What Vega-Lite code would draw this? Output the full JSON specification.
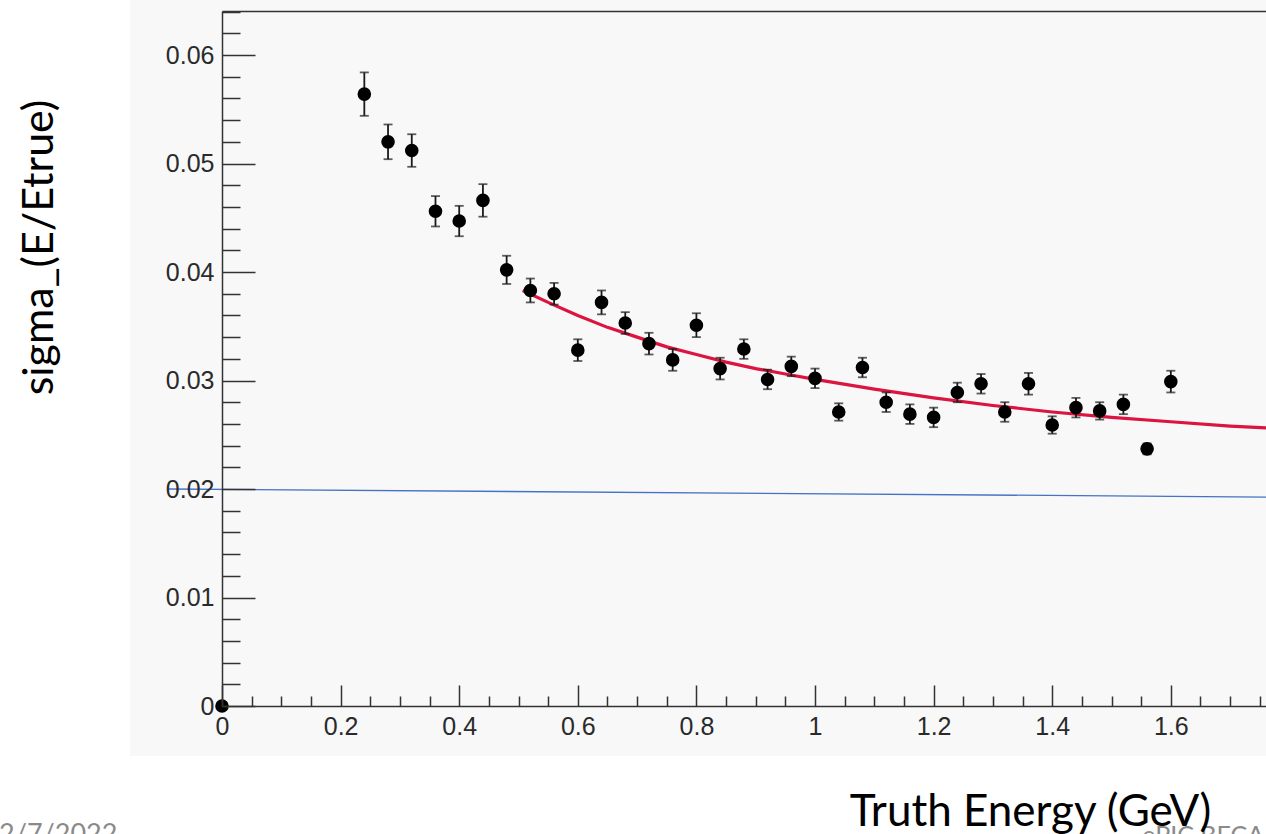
{
  "$schema": "https://vega.github.io/schema/vega-lite/v6.json",
  "width": 1044,
  "height": 695,
  "autosize": "none",
  "padding": {"left": 222, "top": 11, "right": 0, "bottom": 128},
  "background": "white",
  "config": {"view": {"stroke": null}},
  "datasets": {
    "pts": [
      {"E": 0.0, "sigma": 0.0, "err": 0},
      {"E": 0.24, "sigma": 0.0564, "err": 0.0020},
      {"E": 0.28, "sigma": 0.0520, "err": 0.0016},
      {"E": 0.32, "sigma": 0.0512, "err": 0.0015},
      {"E": 0.36, "sigma": 0.0456, "err": 0.0014},
      {"E": 0.40, "sigma": 0.0447, "err": 0.0014},
      {"E": 0.44, "sigma": 0.0466, "err": 0.0015},
      {"E": 0.48, "sigma": 0.0402, "err": 0.0013},
      {"E": 0.52, "sigma": 0.0383, "err": 0.0011},
      {"E": 0.56, "sigma": 0.0380, "err": 0.0010},
      {"E": 0.60, "sigma": 0.0328, "err": 0.0010},
      {"E": 0.64, "sigma": 0.0372, "err": 0.0011},
      {"E": 0.68, "sigma": 0.0353, "err": 0.0010},
      {"E": 0.72, "sigma": 0.0334, "err": 0.0010},
      {"E": 0.76, "sigma": 0.0319, "err": 0.0010},
      {"E": 0.80, "sigma": 0.0351, "err": 0.0011},
      {"E": 0.84, "sigma": 0.0311, "err": 0.0010},
      {"E": 0.88, "sigma": 0.0329, "err": 0.0009},
      {"E": 0.92, "sigma": 0.0301, "err": 0.0009},
      {"E": 0.96, "sigma": 0.0313, "err": 0.0009},
      {"E": 1.00, "sigma": 0.0302, "err": 0.0009},
      {"E": 1.04, "sigma": 0.0271, "err": 0.0008},
      {"E": 1.08, "sigma": 0.0312, "err": 0.0009},
      {"E": 1.12, "sigma": 0.0280, "err": 0.0009},
      {"E": 1.16, "sigma": 0.0269, "err": 0.0009},
      {"E": 1.20, "sigma": 0.0266, "err": 0.0009},
      {"E": 1.24, "sigma": 0.0289, "err": 0.0009},
      {"E": 1.28, "sigma": 0.0297, "err": 0.0009},
      {"E": 1.32, "sigma": 0.0271, "err": 0.0009},
      {"E": 1.36, "sigma": 0.0297, "err": 0.0010},
      {"E": 1.40, "sigma": 0.0259, "err": 0.0008},
      {"E": 1.44, "sigma": 0.0275, "err": 0.0009},
      {"E": 1.48, "sigma": 0.0272, "err": 0.0008},
      {"E": 1.52, "sigma": 0.0278, "err": 0.0009},
      {"E": 1.56, "sigma": 0.0237, "err": 0.0005},
      {"E": 1.60, "sigma": 0.0299, "err": 0.0010}
    ],
    "fit": [
      {"E": 0.507, "sigma": 0.0383},
      {"E": 0.55, "sigma": 0.0372},
      {"E": 0.60, "sigma": 0.0360},
      {"E": 0.65, "sigma": 0.0349},
      {"E": 0.70, "sigma": 0.0340},
      {"E": 0.75, "sigma": 0.0331},
      {"E": 0.80, "sigma": 0.0324},
      {"E": 0.85, "sigma": 0.0317},
      {"E": 0.90, "sigma": 0.0311},
      {"E": 0.95, "sigma": 0.0306},
      {"E": 1.00, "sigma": 0.0301},
      {"E": 1.10, "sigma": 0.0292},
      {"E": 1.20, "sigma": 0.0284},
      {"E": 1.30, "sigma": 0.0277},
      {"E": 1.40, "sigma": 0.0271},
      {"E": 1.50, "sigma": 0.0266},
      {"E": 1.60, "sigma": 0.0262},
      {"E": 1.70, "sigma": 0.0258},
      {"E": 1.77, "sigma": 0.0256}
    ],
    "ref": [
      {"E": -0.091, "sigma": 0.0200},
      {"E": 1.7605, "sigma": 0.01926}
    ],
    "one": [{}]
  },
  "resolve": {"axis": {"x": "independent", "y": "independent"}},
  "layer": [
    {
      "data": {"name": "one"},
      "mark": {"type": "rect", "color": "#f8f8f8"},
      "encoding": {
        "x": {"datum": -0.155, "type": "quantitative", "scale": {"domain": [0, 1.7605], "nice": false, "zero": false},
              "axis": {"orient": "top", "domain": true, "domainColor": "#333333", "domainWidth": 1.5, "ticks": false, "labels": false, "title": null, "grid": false, "zindex": 1}},
        "x2": {"datum": 1.9},
        "y": {"datum": -0.0046, "type": "quantitative", "scale": {"domain": [0, 0.06406], "nice": false, "zero": false}, "axis": null},
        "y2": {"datum": 0.08}
      }
    },
    {
      "data": {"name": "ref"},
      "mark": {"type": "line", "color": "#4472c4", "strokeWidth": 1.3},
      "encoding": {
        "x": {"field": "E", "type": "quantitative", "scale": {"domain": [0, 1.7605], "nice": false, "zero": false}, "axis": null},
        "y": {"field": "sigma", "type": "quantitative", "scale": {"domain": [0, 0.06406], "nice": false, "zero": false}, "axis": null}
      }
    },
    {
      "data": {"name": "fit"},
      "mark": {"type": "line", "color": "#dc1440", "strokeWidth": 3.2, "clip": true},
      "encoding": {
        "x": {"field": "E", "type": "quantitative", "scale": {"domain": [0, 1.7605], "nice": false, "zero": false},
              "axis": {"orient": "bottom", "domain": false, "labels": false, "title": null, "grid": false, "ticks": true, "tickSize": -10, "tickWidth": 1.5, "tickColor": "#333333", "zindex": 1,
                       "values": [0.05, 0.1, 0.15, 0.25, 0.3, 0.35, 0.45, 0.5, 0.55, 0.65, 0.7, 0.75, 0.85, 0.9, 0.95, 1.05, 1.1, 1.15, 1.25, 1.3, 1.35, 1.45, 1.5, 1.55, 1.65, 1.7, 1.75]}},
        "y": {"field": "sigma", "type": "quantitative", "scale": {"domain": [0, 0.06406], "nice": false, "zero": false},
              "axis": {"orient": "left", "domain": false, "labels": false, "title": null, "grid": false, "ticks": true, "tickSize": -18, "tickWidth": 1.5, "tickColor": "#333333", "zindex": 1,
                       "values": [0.002, 0.004, 0.006, 0.008, 0.012, 0.014, 0.016, 0.018, 0.022, 0.024, 0.026, 0.028, 0.032, 0.034, 0.036, 0.038, 0.042, 0.044, 0.046, 0.048, 0.052, 0.054, 0.056, 0.058, 0.062, 0.064]}}
      }
    },
    {
      "data": {"name": "pts"},
      "transform": [{"filter": "datum.err > 0"}],
      "mark": {"type": "errorbar", "color": "#1a1a1a", "thickness": 1.8, "ticks": {"size": 9, "thickness": 1.8, "color": "#1a1a1a"}},
      "encoding": {
        "x": {"field": "E", "type": "quantitative", "scale": {"domain": [0, 1.7605], "nice": false, "zero": false},
              "axis": {"orient": "bottom", "domain": false, "labels": false, "title": null, "grid": false, "ticks": true, "tickSize": -21, "tickWidth": 1.5, "tickColor": "#333333", "zindex": 1,
                       "values": [0, 0.2, 0.4, 0.6, 0.8, 1.0, 1.2, 1.4, 1.6]}},
        "y": {"field": "sigma", "type": "quantitative", "scale": {"domain": [0, 0.06406], "nice": false, "zero": false},
              "axis": {"orient": "left", "domain": false, "labels": false, "title": null, "grid": false, "ticks": true, "tickSize": -33, "tickWidth": 1.5, "tickColor": "#333333", "zindex": 1,
                       "values": [0, 0.01, 0.02, 0.03, 0.04, 0.05, 0.06]}},
        "yError": {"field": "err"}
      }
    },
    {
      "data": {"name": "pts"},
      "mark": {"type": "circle", "color": "#000000", "opacity": 1, "size": 185},
      "encoding": {
        "x": {"field": "E", "type": "quantitative", "scale": {"domain": [0, 1.7605], "nice": false, "zero": false},
              "axis": {"orient": "bottom", "domain": true, "domainColor": "#333333", "domainWidth": 1.5, "ticks": false, "grid": false, "zindex": 1,
                       "values": [0, 0.2, 0.4, 0.6, 0.8, 1.0, 1.2, 1.4, 1.6], "format": "~g",
                       "labelFont": "Liberation Sans", "labelFontSize": 25, "labelColor": "#2a2a2a", "labelPadding": 8, "labelBaseline": "top", "labelFlush": false, "labelOverlap": false,
                       "title": "Truth Energy (GeV)", "titleFont": "Lato", "titleFontSize": 44, "titleFontWeight": "normal", "titleColor": "#000000",
                       "titleX": 808, "titleY": 119, "titleAlign": "center", "titleBaseline": "alphabetic"}},
        "y": {"field": "sigma", "type": "quantitative", "scale": {"domain": [0, 0.06406], "nice": false, "zero": false},
              "axis": {"orient": "left", "domain": true, "domainColor": "#333333", "domainWidth": 1.5, "ticks": false, "grid": false, "zindex": 1,
                       "values": [0, 0.01, 0.02, 0.03, 0.04, 0.05, 0.06], "format": "~g",
                       "labelFont": "Liberation Sans", "labelFontSize": 25, "labelColor": "#2a2a2a", "labelPadding": 8, "labelFlush": false, "labelOverlap": false,
                       "title": "sigma_(E/Etrue)", "titleFont": "Lato", "titleFontSize": 43, "titleFontWeight": "normal", "titleColor": "#000000",
                       "titleX": -170, "titleY": 236, "titleAngle": -90, "titleAlign": "center", "titleBaseline": "alphabetic"}}
      }
    },
    {
      "data": {"name": "one"},
      "mark": {"type": "text", "text": "2/7/2022", "font": "Lato", "fontSize": 27, "color": "#8a8a8a", "align": "left", "baseline": "alphabetic"},
      "encoding": {
        "x": {"datum": -0.376, "type": "quantitative", "scale": {"domain": [0, 1.7605], "nice": false, "zero": false}, "axis": null},
        "y": {"datum": -0.0126, "type": "quantitative", "scale": {"domain": [0, 0.06406], "nice": false, "zero": false}, "axis": null}
      }
    },
    {
      "data": {"name": "one"},
      "mark": {"type": "text", "text": "ePIC BECAL", "font": "Lato", "fontSize": 25, "color": "#8a8a8a", "align": "left", "baseline": "alphabetic"},
      "encoding": {
        "x": {"datum": 1.552, "type": "quantitative", "scale": {"domain": [0, 1.7605], "nice": false, "zero": false}, "axis": null},
        "y": {"datum": -0.0127, "type": "quantitative", "scale": {"domain": [0, 0.06406], "nice": false, "zero": false}, "axis": null}
      }
    }
  ]
}
